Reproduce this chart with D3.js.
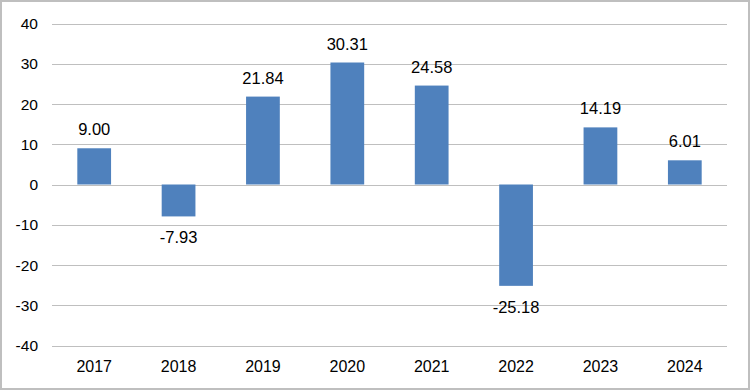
<!DOCTYPE html>
<html>
<head>
<meta charset="utf-8">
<script src="https://d3js.org/d3.v7.min.js"></script>
<style>
  body { margin: 0; background: #fff; }
  text { font-family: "Liberation Sans", Arial, sans-serif; font-size: 16px; fill: #000; }
  text.ytick { font-size: 15.5px; }
  text.lab { font-size: 16.5px; }
  .grid line { stroke: #bfbfbf; stroke-width: 1px; }
  .bar { fill: #4f81bd; }
</style>
</head>
<body>
<div id="chart"></div>
<script>
var years = ["2017", "2018", "2019", "2020", "2021", "2022", "2023", "2024"];
var values = [9.00, -7.93, 21.84, 30.31, 24.58, -25.18, 14.19, 6.01];
var yTicks = [-40, -30, -20, -10, 0, 10, 20, 30, 40];

var width = 750, height = 390;
var plotLeft = 52, plotRight = 727, plotTop = 23.5, plotBottom = 345.5;

var svg = d3.select("#chart").append("svg")
    .attr("width", width)
    .attr("height", height);

// outer border
svg.append("rect")
    .attr("x", 1).attr("y", 1)
    .attr("width", width - 2).attr("height", height - 2)
    .attr("fill", "#fff")
    .attr("stroke", "#bfbfbf")
    .attr("stroke-width", 2);

var x = d3.scaleBand().domain(years).range([plotLeft, plotRight]).paddingInner(0.6).paddingOuter(0.3);
var y = d3.scaleLinear().domain([-40, 40]).range([plotBottom, plotTop]);

var fmt = function(d) { return d3.format(".2f")(d).replace("\u2212", "-"); };

var grid = svg.append("g").attr("class", "grid");
grid.selectAll("line")
    .data(yTicks)
  .enter().append("line")
    .attr("x1", plotLeft).attr("x2", plotRight)
    .attr("y1", function(d) { return Math.round(y(d)) + 0.5; })
    .attr("y2", function(d) { return Math.round(y(d)) + 0.5; });

svg.selectAll("text.ytick")
    .data(yTicks)
  .enter().append("text")
    .attr("class", "ytick")
    .attr("x", 38)
    .attr("y", function(d) { return y(d) + 5.5; })
    .attr("text-anchor", "end")
    .text(function(d) { return d; });

svg.selectAll("rect.bar")
    .data(values)
  .enter().append("rect")
    .attr("class", "bar")
    .attr("x", function(d, i) { return x(years[i]); })
    .attr("width", x.bandwidth())
    .attr("y", function(d) { return y(Math.max(0, d)); })
    .attr("height", function(d) { return Math.abs(y(d) - y(0)); });

svg.selectAll("text.lab")
    .data(values)
  .enter().append("text")
    .attr("class", "lab")
    .attr("x", function(d, i) { return x(years[i]) + x.bandwidth() / 2; })
    .attr("y", function(d) { return d >= 0 ? y(d) - 13 : y(d) + 27; })
    .attr("text-anchor", "middle")
    .text(fmt);

svg.selectAll("text.xtick")
    .data(years)
  .enter().append("text")
    .attr("class", "xtick")
    .attr("x", function(d) { return x(d) + x.bandwidth() / 2; })
    .attr("y", 372)
    .attr("text-anchor", "middle")
    .text(function(d) { return d; });
</script>
</body>
</html>
